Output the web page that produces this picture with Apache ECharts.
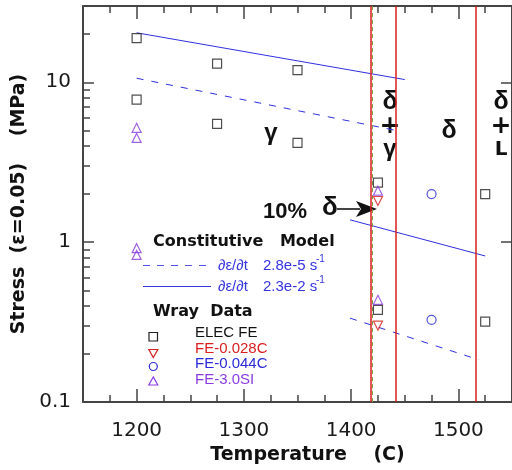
<!DOCTYPE html>
<html>
<head>
<meta charset="utf-8">
<script src="https://cdn.jsdelivr.net/npm/echarts@6/dist/echarts.min.js"></script>
<style>
  html, body { margin: 0; padding: 0; background: #fff; }
  #main { width: 512px; height: 470px; }
</style>
</head>
<body>
<div id="main"></div>
<script type="text/javascript">
// --- data ---
// Wray data, temperature (C) / stress (MPa)
var elecT = [1200, 1200, 1275, 1275, 1350, 1350, 1425, 1425, 1525, 1525];
var elecS = [18.9, 7.8, 13.1, 5.5, 11.9, 4.18, 2.36, 0.377, 2.0, 0.319];
var c028T = [1425, 1425];
var c028S = [1.81, 0.301];
var c044T = [1475, 1475];
var c044S = [2.0, 0.327];
var siT = [1200, 1200, 1200, 1200, 1425, 1425];
var siS = [5.19, 4.49, 0.917, 0.833, 2.10, 0.436];

// constitutive model lines (end points)
var slowHiT = [1200, 1445], slowHiS = [10.6, 4.95];
var fastHiT = [1200, 1450], fastHiS = [20.4, 10.4];
var fastLoT = [1399, 1525], fastLoS = [1.38, 0.82];
var slowLoT = [1399, 1519], slowLoS = [0.335, 0.184];

// phase boundaries
var boundaries = [1418, 1442, 1516];
var delta10 = 1419.5;

// ticks
var xMajor = [1200, 1300, 1400, 1500];
var xMinor = [1175, 1225, 1250, 1275, 1325, 1350, 1375, 1425, 1450, 1475, 1525];
var yMajor = [0.1, 1, 10];
var yMinor = [0.2, 0.3, 0.4, 0.5, 0.6, 0.7, 0.8, 0.9, 2, 3, 4, 5, 6, 7, 8, 9, 20];

var xMin = 1150, xMax = 1550, yMin = 0.1, yMax = 30;

var BLUE = '#3030e0', RED = '#d81e1e', PURPLE = '#8a3ce0', CBLUE = '#2a2ad8';
var AX = '#444';

function pairs(a, b) {
    var out = [];
    for (var i = 0; i < a.length; i++) out.push([a[i], b[i]]);
    return out;
}

var myChart = echarts.init(document.getElementById('main'), null, { renderer: 'canvas' });

var axisFont = 'DejaVu Sans';

function lineSeries(t, s, dashed) {
    return {
        type: 'line',
        data: pairs(t, s),
        symbol: 'none',
        silent: true,
        z: 3,
        lineStyle: { color: BLUE, width: 1, type: dashed ? [7, 8] : 'solid' }
    };
}

function scatter(t, s, symbol, color, rotate) {
    return {
        type: 'scatter',
        data: pairs(t, s),
        symbol: symbol,
        symbolSize: 9,
        symbolRotate: rotate || 0,
        z: 5,
        itemStyle: { color: 'rgba(255,255,255,0)', borderColor: color, borderWidth: 1.2 }
    };
}

// tick-only x axes (linear)
function xTickAxis(pos, vals, len) {
    return {
        type: 'value', position: pos, min: xMin, max: xMax,
        axisLine: { show: false, onZero: false },
        axisTick: { show: true, inside: true, length: len, customValues: vals, lineStyle: { color: AX, width: 1.5 } },
        axisLabel: { show: false }, splitLine: { show: false }
    };
}

// tick-only y axes, laid out in log10 space so they line up with the log axis
function yTickAxis(pos, vals, len) {
    return {
        type: 'value', position: pos, min: Math.log10(yMin), max: Math.log10(yMax),
        axisLine: { show: false, onZero: false },
        axisTick: { show: true, inside: true, length: len, customValues: vals.map(Math.log10), lineStyle: { color: AX, width: 1.5 } },
        axisLabel: { show: false }, splitLine: { show: false }
    };
}

var option = {
    backgroundColor: '#fff',
    animation: false,
    grid: { left: 83, top: 6, width: 437, height: 397 },
    xAxis: [{
        type: 'value', position: 'bottom', min: xMin, max: xMax,
        axisLine: { show: true, onZero: false, lineStyle: { color: AX, width: 2 } },
        axisTick: { show: true, inside: true, length: 13, customValues: xMajor, lineStyle: { color: AX, width: 1.5 } },
        splitLine: { show: false },
        axisLabel: {
            customValues: xMajor, margin: 19, fontFamily: axisFont, fontSize: 20, color: '#1a1a1a',
            formatter: function (v) { return String(v); }
        },
        name: 'Temperature    (C)',
        nameLocation: 'middle',
        nameGap: 36,
        nameTextStyle: { fontFamily: axisFont, fontWeight: 'bold', fontSize: 19, color: '#111', padding: [0, 0, 0, 20] }
    }, {
        type: 'value', position: 'top', min: xMin, max: xMax,
        axisLine: { show: true, onZero: false, lineStyle: { color: AX, width: 2 } },
        axisTick: { show: true, inside: true, length: 13, customValues: xMajor, lineStyle: { color: AX, width: 1.5 } },
        axisLabel: { show: false }, splitLine: { show: false }
    },
        xTickAxis('bottom', xMinor, 7),
        xTickAxis('top', xMinor, 7)
    ],
    yAxis: [{
        type: 'log', logBase: 10, position: 'left', min: yMin, max: yMax,
        axisLine: { show: true, onZero: false, lineStyle: { color: AX, width: 2 } },
        axisTick: { show: false },
        splitLine: { show: false },
        axisLabel: {
            margin: 12, fontFamily: axisFont, fontSize: 20, color: '#1a1a1a',
            formatter: function (v) {
                for (var i = 0; i < yMajor.length; i++) {
                    if (Math.abs(v - yMajor[i]) < 1e-9) return String(yMajor[i]);
                }
                return '';
            }
        },
        name: 'Stress  (\u03b5=0.05)    (MPa)',
        nameLocation: 'middle',
        nameGap: 38,
        nameTextStyle: { fontFamily: axisFont, fontWeight: 'bold', fontSize: 19, color: '#111' }
    }, {
        type: 'log', logBase: 10, position: 'right', min: yMin, max: yMax,
        axisLine: { show: true, onZero: false, lineStyle: { color: AX, width: 2 } },
        axisTick: { show: false }, axisLabel: { show: false }, splitLine: { show: false }
    },
        yTickAxis('left', yMajor, 11),
        yTickAxis('left', yMinor, 7),
        yTickAxis('right', yMajor, 11)
    ],
    series: [
        {
            // phase boundaries
            type: 'line', data: [], silent: true, z: 2,
            markLine: {
                silent: true, symbol: 'none', label: { show: false },
                lineStyle: { color: RED, width: 1.5, type: 'solid' },
                data: boundaries.map(function (b) { return { xAxis: b }; })
            }
        },
        {
            type: 'line', data: [], silent: true, z: 2,
            markLine: {
                silent: true, symbol: 'none', label: { show: false },
                lineStyle: { color: '#7da043', width: 1, type: [4, 3] },
                data: [{ xAxis: delta10 }]
            }
        },
        lineSeries(fastHiT, fastHiS, false),
        lineSeries(slowHiT, slowHiS, true),
        lineSeries(fastLoT, fastLoS, false),
        lineSeries(slowLoT, slowLoS, true),
        scatter(elecT, elecS, 'rect', '#222'),
        scatter(c028T, c028S, 'triangle', RED, 180),
        scatter(c044T, c044S, 'circle', CBLUE),
        scatter(siT, siS, 'triangle', PURPLE)
    ],
    graphic: [
        // phase labels
        { type: 'text', style: { text: '\u03b3', x: 271, y: 133, align: 'center', verticalAlign: 'middle', font: 'bold 24px "Liberation Sans"', fill: '#111' } },
        { type: 'text', style: { text: '\u03b4', x: 390, y: 102, align: 'center', verticalAlign: 'middle', font: 'bold 25px "Liberation Sans"', fill: '#111' } },
        { type: 'text', style: { text: '+', x: 390, y: 126, align: 'center', verticalAlign: 'middle', font: 'bold 25px "DejaVu Sans"', fill: '#111' } },
        { type: 'text', style: { text: '\u03b3', x: 390, y: 149, align: 'center', verticalAlign: 'middle', font: 'bold 24px "Liberation Sans"', fill: '#111' } },
        { type: 'text', style: { text: '\u03b4', x: 449, y: 131, align: 'center', verticalAlign: 'middle', font: 'bold 25px "Liberation Sans"', fill: '#111' } },
        { type: 'text', style: { text: '\u03b4', x: 501, y: 102, align: 'center', verticalAlign: 'middle', font: 'bold 25px "Liberation Sans"', fill: '#111' } },
        { type: 'text', style: { text: '+', x: 501, y: 126, align: 'center', verticalAlign: 'middle', font: 'bold 25px "DejaVu Sans"', fill: '#111' } },
        { type: 'text', style: { text: 'L', x: 501, y: 150, align: 'center', verticalAlign: 'middle', font: 'bold 20px "DejaVu Sans"', fill: '#111' } },
        // 10% delta with arrow
        { type: 'text', style: { text: '10%', x: 263, y: 212, align: 'left', verticalAlign: 'middle', font: 'bold 22px "Liberation Sans"', fill: '#111' } },
        { type: 'text', style: { text: '\u03b4', x: 330, y: 208, align: 'center', verticalAlign: 'middle', font: 'bold 26px "Liberation Sans"', fill: '#111' } },
        { type: 'line', shape: { x1: 337, y1: 209, x2: 360, y2: 209 }, style: { stroke: '#444', lineWidth: 2 } },
        { type: 'polygon', shape: { points: [[356, 201], [377, 209], [356, 217], [361, 209]] }, style: { fill: '#111' } },
        // legend: constitutive model
        { type: 'text', style: { text: 'Constitutive   Model', x: 153, y: 242, verticalAlign: 'middle', font: 'bold 16px "DejaVu Sans"', fill: '#111' } },
        { type: 'line', shape: { x1: 143, y1: 265.5, x2: 211, y2: 265.5 }, style: { stroke: '#5555ee', lineWidth: 1, lineDash: [7, 7] } },
        { type: 'text', style: { text: '\u2202\u03b5/\u2202t', x: 218, y: 266, verticalAlign: 'middle', font: '15px "Liberation Sans"', fill: '#3535e0' } },
        { type: 'text', style: { text: '2.8e-5 s', x: 263, y: 266, verticalAlign: 'middle', font: '15px "Liberation Sans"', fill: '#3535e0' } },
        { type: 'text', style: { text: '-1', x: 316, y: 259, verticalAlign: 'middle', font: '10px "Liberation Sans"', fill: '#3535e0' } },
        { type: 'line', shape: { x1: 143, y1: 286.5, x2: 211, y2: 286.5 }, style: { stroke: '#3535e0', lineWidth: 1 } },
        { type: 'text', style: { text: '\u2202\u03b5/\u2202t', x: 218, y: 287, verticalAlign: 'middle', font: '15px "Liberation Sans"', fill: '#3535e0' } },
        { type: 'text', style: { text: '2.3e-2 s', x: 263, y: 287, verticalAlign: 'middle', font: '15px "Liberation Sans"', fill: '#3535e0' } },
        { type: 'text', style: { text: '-1', x: 316, y: 280, verticalAlign: 'middle', font: '10px "Liberation Sans"', fill: '#3535e0' } },
        // legend: wray data
        { type: 'text', style: { text: 'Wray  Data', x: 153, y: 312, verticalAlign: 'middle', font: 'bold 16px "DejaVu Sans"', fill: '#111' } },
        { type: 'rect', shape: { x: 149, y: 332.5, width: 8.5, height: 8.5 }, style: { fill: 'none', stroke: '#222', lineWidth: 1.2 } },
        { type: 'polygon', shape: { points: [[148.8, 349.5], [157.8, 349.5], [153.3, 357.5]] }, style: { fill: 'none', stroke: RED, lineWidth: 1.2 } },
        { type: 'circle', shape: { cx: 153.3, cy: 366.5, r: 4 }, style: { fill: 'none', stroke: CBLUE, lineWidth: 1.2 } },
        { type: 'polygon', shape: { points: [[148.8, 385], [157.8, 385], [153.3, 377]] }, style: { fill: 'none', stroke: PURPLE, lineWidth: 1.2 } },
        { type: 'text', style: { text: 'ELEC FE', x: 195, y: 333, verticalAlign: 'middle', font: '15px "Liberation Sans"', fill: '#111' } },
        { type: 'text', style: { text: 'FE-0.028C', x: 195, y: 348.5, verticalAlign: 'middle', font: '15px "Liberation Sans"', fill: RED } },
        { type: 'text', style: { text: 'FE-0.044C', x: 195, y: 364, verticalAlign: 'middle', font: '15px "Liberation Sans"', fill: CBLUE } },
        { type: 'text', style: { text: 'FE-3.0SI', x: 195, y: 380, verticalAlign: 'middle', font: '15px "Liberation Sans"', fill: PURPLE } }
    ]
};
myChart.setOption(option);
</script>
</body>
</html>
